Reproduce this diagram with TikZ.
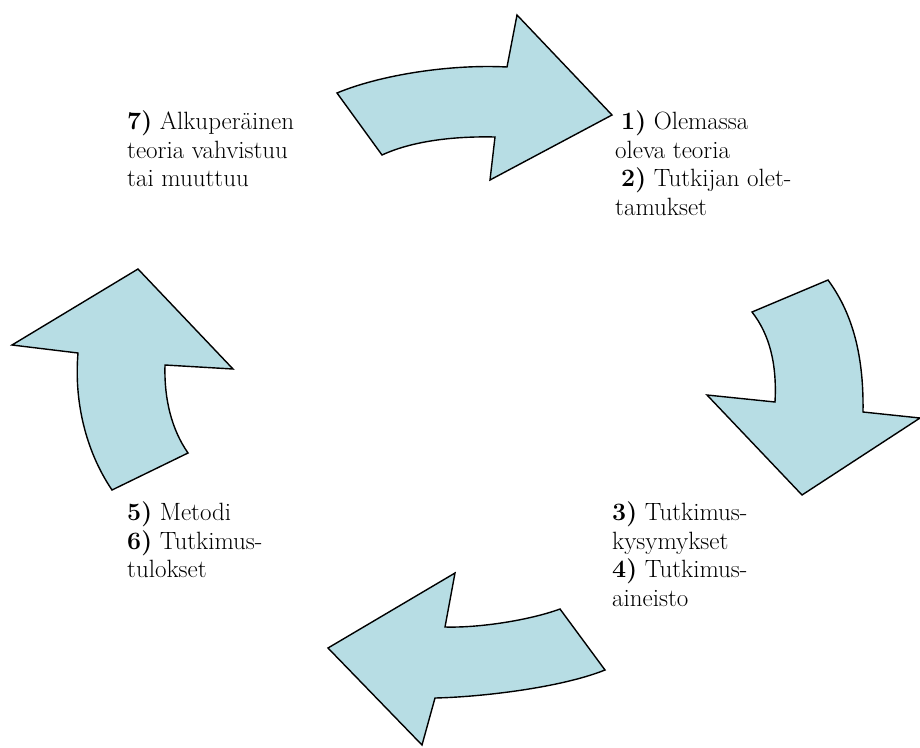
\documentclass[tikz,border=0pt]{standalone}
\usepackage{fontspec}
\definecolor{arrowfill}{RGB}{183,221,228}
\begin{document}
\begin{tikzpicture}[x=1pt,y=-1pt,
  cyclearrow/.style={fill=arrowfill,draw=black,line width=1.4pt,line join=miter},
  steptext/.style={anchor=north west,inner sep=0pt,align=left,font=\rmfamily\fontsize{25}{28.5}\selectfont}]
\useasboundingbox (0,0) rectangle (920,747);
% top arrow
\draw[cyclearrow] (337,93) .. controls (380,75) and (450,64) .. (507,67)
  -- (517,15) -- (612,115) -- (490,180) -- (495,137)
  .. controls (450,136) and (410,142) .. (382,155) -- cycle;
% right arrow
\draw[cyclearrow] (828,280) .. controls (850,310) and (864,350) .. (863,412)
  -- (920,418) -- (802,495) -- (707,395) -- (775,402)
  .. controls (777,365) and (770,335) .. (752,312) -- cycle;
% bottom arrow
\draw[cyclearrow] (560,609) .. controls (530,620) and (480,628) .. (445,627)
  -- (455,573) -- (328,648) -- (422,745) -- (435,698)
  .. controls (480,697) and (560,688) .. (605,670) -- cycle;
% left arrow
\draw[cyclearrow] (112,490) .. controls (85,450) and (74,400) .. (78,353)
  -- (12,345) -- (138,269) -- (233,369) -- (165,365)
  .. controls (164,400) and (172,430) .. (188,453) -- cycle;
% texts
\node[steptext] (t7) at (127,111) {\textbf{7)} Alkuperäinen\\teoria vahvistuu\\tai muuttuu};
\node[steptext] (t12) at (615,111) {\hspace{6pt}\textbf{1)} Olemassa\\oleva teoria\\\hspace{6pt}\textbf{2)} Tutkijan olet-\\tamukset};
\node[steptext] (t34) at (612,502) {\textbf{3)} Tutkimus-\\kysymykset\\\textbf{4)} Tutkimus-\\aineisto};
\node[steptext] (t56) at (127,502) {\textbf{5)} Metodi\\\textbf{6)} Tutkimus-\\tulokset};
\end{tikzpicture}
\end{document}
